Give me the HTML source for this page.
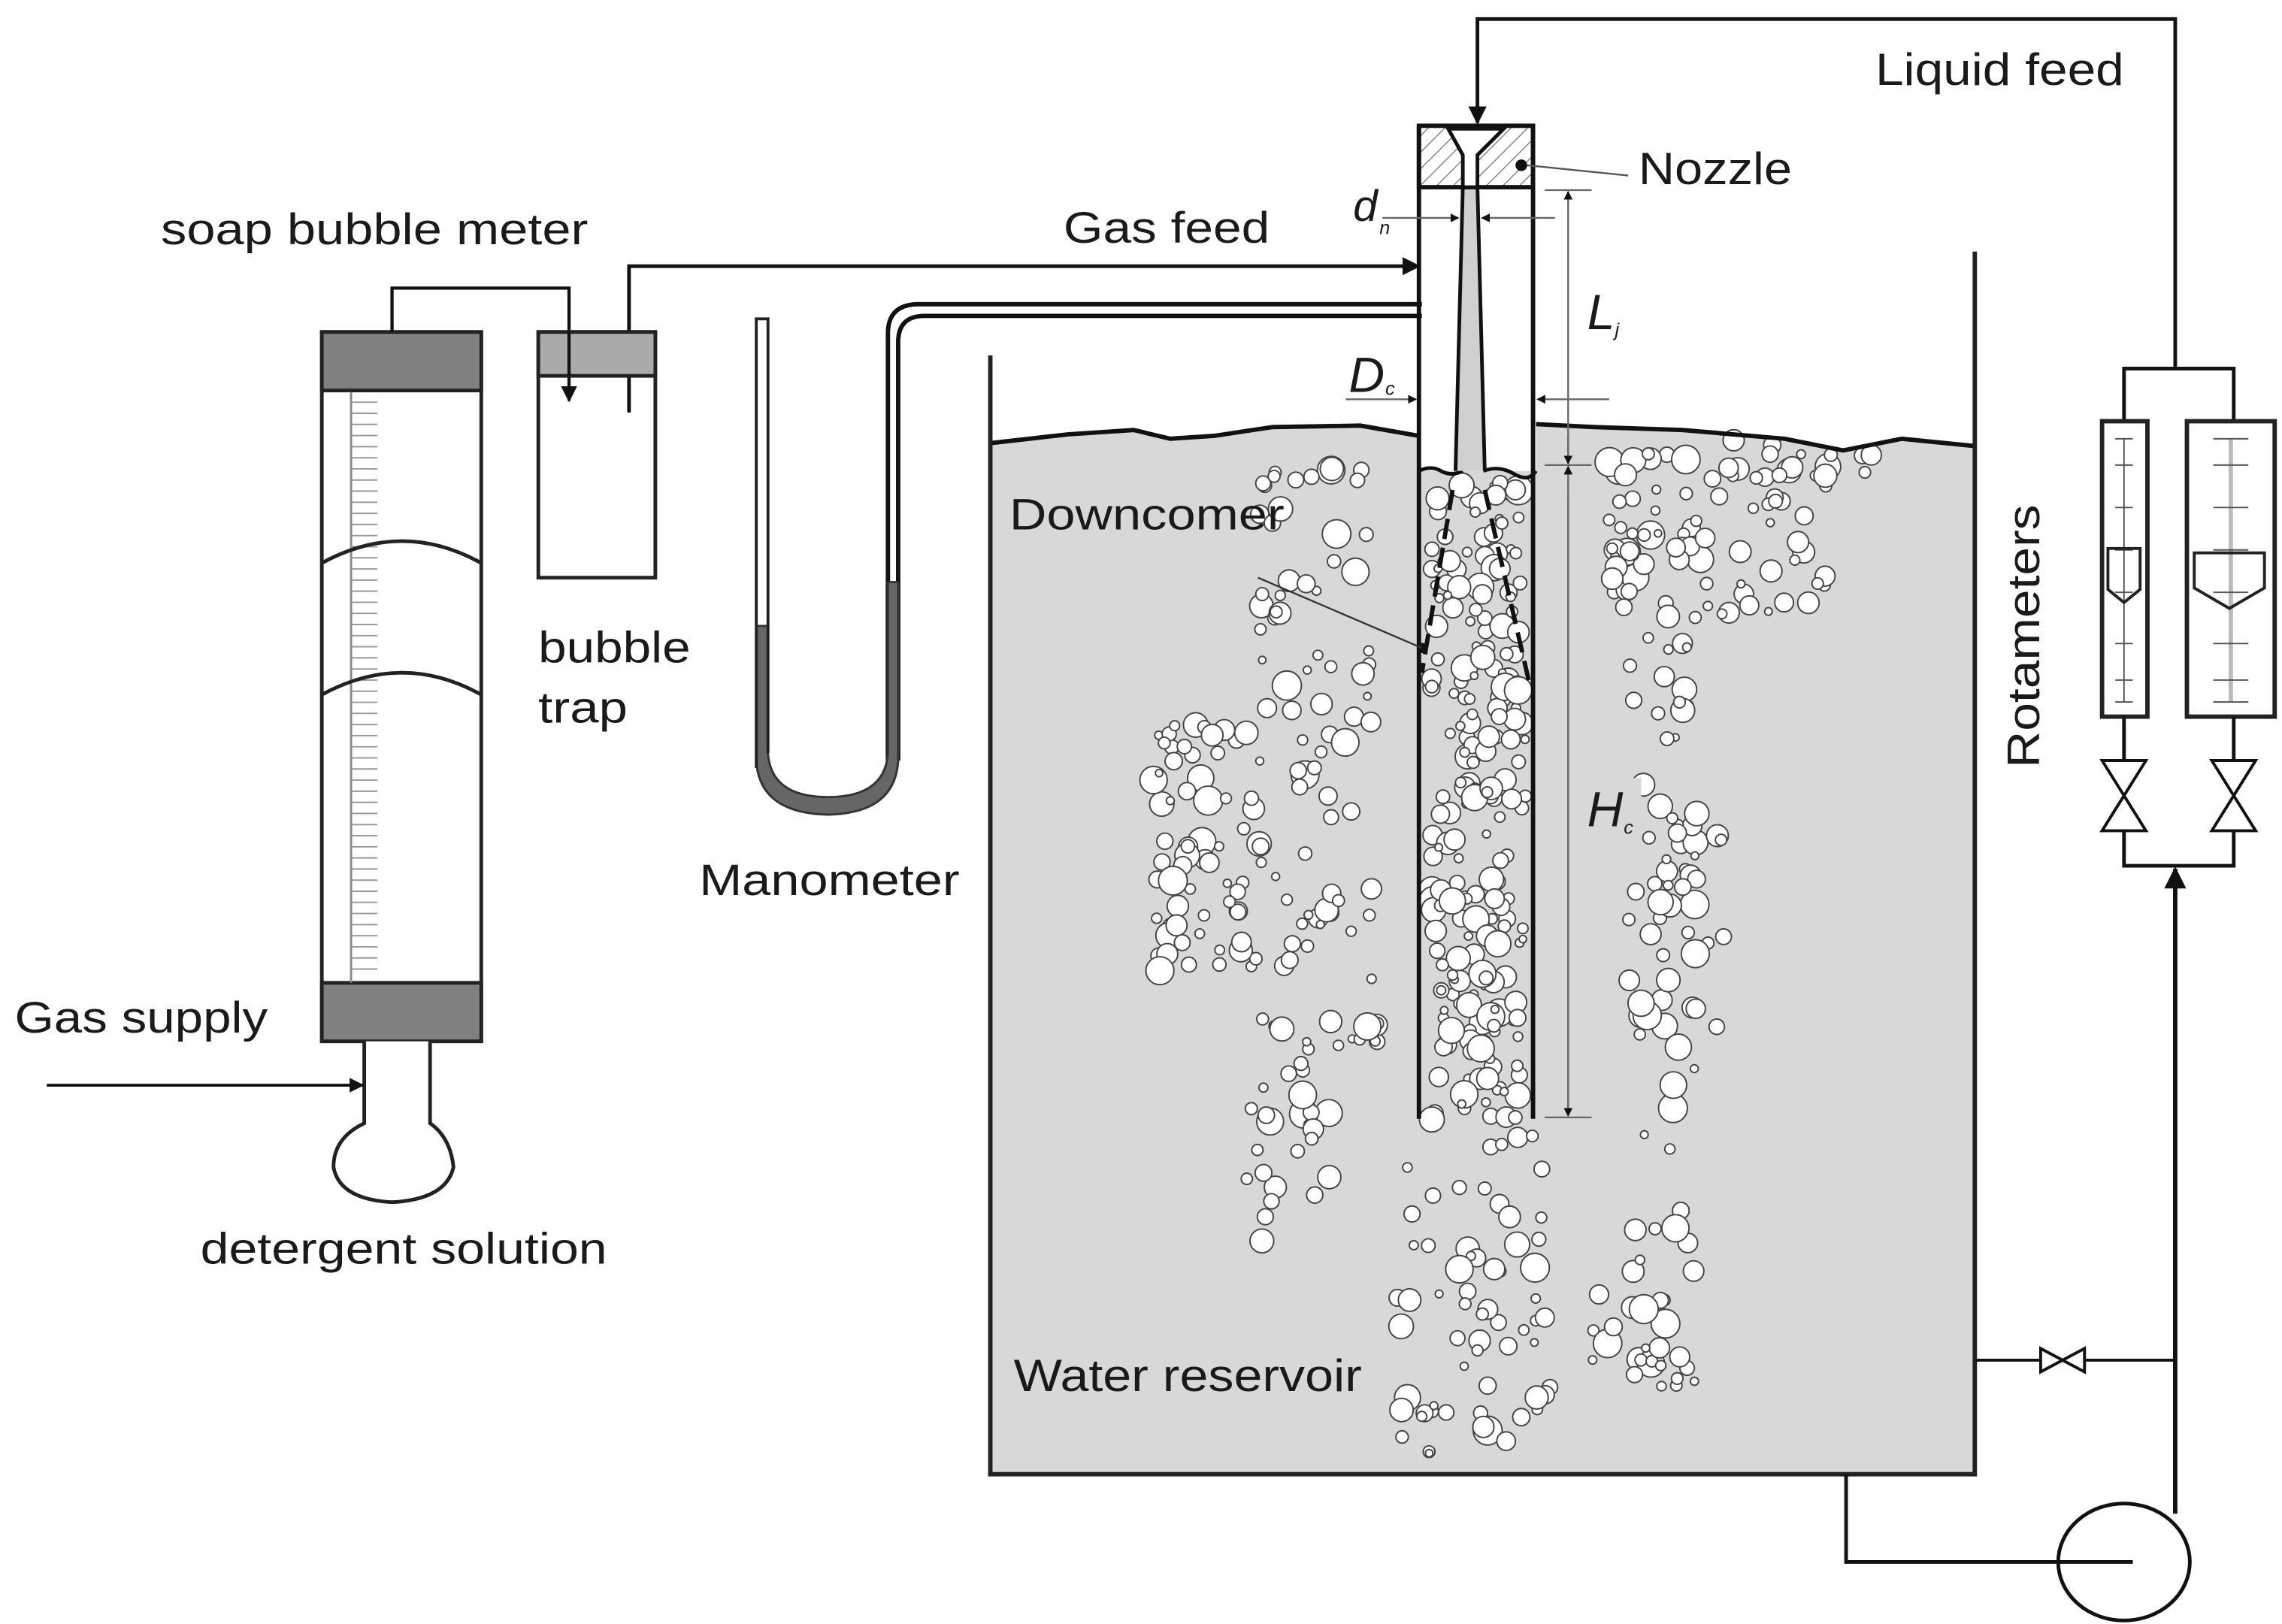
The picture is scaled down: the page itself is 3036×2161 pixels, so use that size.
<!DOCTYPE html>
<html><head><meta charset="utf-8"><style>
html,body{margin:0;padding:0;background:#fff}
svg{display:block}
text{font-family:"Liberation Sans",sans-serif;fill:#1a1a1a}
</style></head><body>
<svg id="s" width="3036" height="2161" viewBox="0 0 1560 1110.4" preserveAspectRatio="none" xmlns="http://www.w3.org/2000/svg">
<defs>
<marker id="ar" viewBox="0 0 10 10" refX="9" refY="5" markerWidth="5" markerHeight="5" orient="auto"><path d="M0,0 L10,5 L0,10 z" fill="#111"/></marker>
<pattern id="hatch" width="8" height="8" patternUnits="userSpaceOnUse" patternTransform="rotate(45)"><line x1="0" y1="0" x2="0" y2="8" stroke="#666" stroke-width="1.2"/></pattern>
</defs>
<path d="M677,303 L730,297 L775,294 L800,300 L830,298 L870,292 L930,291 L970,298 L970,1008 L677,1008 Z" fill="#d8d8d8"/>
<path d="M1050,290 L1090,292 L1150,294 L1220,300 L1260,308 L1300,300 L1350,305 L1350,1008 L1050,1008 Z" fill="#d8d8d8"/>
<rect x="970" y="322" width="80" height="686" fill="#d8d8d8"/>
<g id="bub"></g>
<path d="M677,303 L730,297 L775,294 L800,300 L830,298 L870,292 L930,291 L970,298" fill="none" stroke="#111" stroke-width="3"/>
<path d="M1050,290 L1090,292 L1150,294 L1220,300 L1260,308 L1300,300 L1350,305" fill="none" stroke="#111" stroke-width="3"/>
<path d="M677,243 L677,1008 L1350,1008 L1350,172" fill="none" stroke="#222" stroke-width="3"/>
<rect x="970" y="128" width="80" height="194" fill="#fff"/>
<path d="M970,322 Q978,318 985,322 T1000,322" fill="none" stroke="#111" stroke-width="2.5"/>
<path d="M1014,322 Q1025,318 1035,324 T1050,322" fill="none" stroke="#111" stroke-width="2.5"/>
<path d="M1000,128 L1010,128 L1015,322 L995,322 Z" fill="#d0d0d0"/>
<path d="M1000,128 L995,322 M1010,128 L1015,322" stroke="#111" stroke-width="2.5"/>
<line x1="970" y1="86" x2="970" y2="765" stroke="#111" stroke-width="3"/>
<line x1="1048" y1="86" x2="1048" y2="765" stroke="#111" stroke-width="3"/>
<rect x="970" y="86" width="78" height="42" fill="url(#hatch)" stroke="#111" stroke-width="3"/>
<path d="M990,88 L1000,106 L1000,128 L1010,128 L1010,106 L1028,88 Z" fill="#fff" stroke="#111" stroke-width="2.5"/>
<circle cx="1040" cy="113" r="4" fill="#111"/>
<line x1="1044" y1="113" x2="1113" y2="120" stroke="#555" stroke-width="1.2"/>
<path d="M993,335 L972,460 M1015,335 L1045,465" stroke="#111" stroke-width="3" stroke-dasharray="14,6" fill="none"/>
<circle cx="972" cy="443" r="3.5" fill="#111"/>
<line x1="972" y1="443" x2="860" y2="395" stroke="#333" stroke-width="1.2"/>
<line x1="945" y1="149" x2="997" y2="149" stroke="#666" stroke-width="1.2" marker-end="url(#ar)"/>
<line x1="1063" y1="149" x2="1013" y2="149" stroke="#666" stroke-width="1.2" marker-end="url(#ar)"/>
<line x1="1056" y1="130" x2="1088" y2="130" stroke="#666" stroke-width="1.2"/>
<line x1="1072" y1="315" x2="1072" y2="131" stroke="#666" stroke-width="1.2" marker-end="url(#ar)"/>
<line x1="920" y1="273" x2="968" y2="273" stroke="#666" stroke-width="1.2" marker-end="url(#ar)"/>
<line x1="1100" y1="273" x2="1051" y2="273" stroke="#666" stroke-width="1.2" marker-end="url(#ar)"/>
<line x1="1056" y1="318" x2="1088" y2="318" stroke="#666" stroke-width="1.2"/>
<line x1="1072" y1="298" x2="1072" y2="317" stroke="#666" stroke-width="1.2" marker-end="url(#ar)"/>
<line x1="1072" y1="762" x2="1072" y2="319" stroke="#666" stroke-width="1.2" marker-end="url(#ar)"/>
<line x1="1072" y1="340" x2="1072" y2="763" stroke="#666" stroke-width="1.2" marker-end="url(#ar)"/>
<line x1="1056" y1="764" x2="1088" y2="764" stroke="#666" stroke-width="1.2"/>
<path d="M1487,252 L1487,13 L1010,13 L1010,84" fill="none" stroke="#111" stroke-width="2.5" marker-end="url(#ar)"/>
<path d="M1452,287 L1452,252 L1527,252 L1527,287" fill="none" stroke="#111" stroke-width="2.5"/>
<rect x="1437" y="288" width="31" height="202" fill="#fff" stroke="#222" stroke-width="3"/>
<rect x="1495" y="288" width="60" height="202" fill="#fff" stroke="#222" stroke-width="3"/>
<line x1="1525" y1="300" x2="1525" y2="480" stroke="#bbb" stroke-width="3"/>
<g stroke="#555" stroke-width="1">
<line x1="1452" y1="300" x2="1452" y2="480"/>
<line x1="1446" y1="300" x2="1458" y2="300"/><line x1="1446" y1="318" x2="1458" y2="318"/><line x1="1446" y1="347" x2="1458" y2="347"/><line x1="1446" y1="376" x2="1458" y2="376"/><line x1="1446" y1="405" x2="1458" y2="405"/><line x1="1446" y1="440" x2="1458" y2="440"/><line x1="1446" y1="465" x2="1458" y2="465"/><line x1="1446" y1="480" x2="1458" y2="480"/>
<line x1="1513" y1="300" x2="1537" y2="300"/><line x1="1513" y1="318" x2="1537" y2="318"/><line x1="1513" y1="347" x2="1537" y2="347"/><line x1="1513" y1="376" x2="1537" y2="376"/><line x1="1513" y1="405" x2="1537" y2="405"/><line x1="1513" y1="440" x2="1537" y2="440"/><line x1="1513" y1="465" x2="1537" y2="465"/><line x1="1513" y1="480" x2="1537" y2="480"/>
</g>
<path d="M1441,375 L1463,375 L1463,403 L1452,412 L1441,403 Z" fill="none" stroke="#222" stroke-width="2"/>
<path d="M1500,378 L1548,378 L1548,402 L1524,416 L1500,402 Z" fill="none" stroke="#222" stroke-width="2"/>
<path d="M1452,490 L1452,520 M1527,490 L1527,520" stroke="#111" stroke-width="2.5"/>
<path d="M1437,520 L1467,520 L1437,568 L1467,568 Z M1512,520 L1542,520 L1512,568 L1542,568 Z" fill="none" stroke="#111" stroke-width="2"/>
<path d="M1452,568 L1452,592 L1527,592 L1527,568" fill="none" stroke="#111" stroke-width="2.5"/>
<line x1="1487" y1="1035" x2="1487" y2="594" stroke="#111" stroke-width="3" marker-end="url(#ar)"/>
<line x1="1350" y1="930" x2="1395" y2="930" stroke="#111" stroke-width="2"/>
<line x1="1425" y1="930" x2="1487" y2="930" stroke="#111" stroke-width="2"/>
<path d="M1395,922 L1425,938 L1425,922 L1395,938 Z" fill="none" stroke="#111" stroke-width="2"/>
<ellipse cx="1452" cy="1068" rx="45" ry="40" fill="#fff" stroke="#111" stroke-width="2.5"/>
<path d="M1262,1008 L1262,1068 L1458,1068" fill="none" stroke="#111" stroke-width="2.5"/>
<path d="M430,282 L430,182 L970,182" fill="none" stroke="#111" stroke-width="2.5" marker-end="url(#ar)"/>
<path d="M972,208 L628,208 Q607,208 607,228 L607,520" fill="none" stroke="#111" stroke-width="3"/>
<path d="M972,216 L632,216 Q614,216 614,234 L614,520" fill="none" stroke="#111" stroke-width="3"/>
<path d="M517,218 L525,218 L525,520 Q525,540 566,542 Q607,540 607,520 L607,400 L614,400 L614,525 Q614,560 566,562 Q517,560 517,525 Z" fill="#fff"/>
<path d="M517,428 L525,428 L525,515 Q527,545 566,545 Q605,545 607,515 L607,398 L614,398 L614,520 Q612,556 566,557 Q519,556 517,520 Z" fill="#666" stroke="#333" stroke-width="1.5"/>
<path d="M517,525 L517,218 L525,218 L525,515" fill="none" stroke="#222" stroke-width="2"/>
<rect x="220" y="227" width="109" height="485" fill="#fff" stroke="#222" stroke-width="2.5"/>
<rect x="220" y="227" width="109" height="40" fill="#808080" stroke="#222" stroke-width="2.5"/>
<rect x="220" y="672" width="109" height="40" fill="#808080" stroke="#222" stroke-width="2.5"/>
<line x1="240" y1="268" x2="240" y2="672" stroke="#888" stroke-width="1.5"/>
<g id="ticks"></g>
<path d="M220,385 Q275,355 329,385" fill="none" stroke="#222" stroke-width="2.5"/>
<path d="M220,475 Q275,445 329,475" fill="none" stroke="#222" stroke-width="2.5"/>
<path d="M268,227 L268,197 L389,197 L389,274" fill="none" stroke="#111" stroke-width="2.2" marker-end="url(#ar)"/>
<rect x="368" y="227" width="80" height="168" fill="none" stroke="#222" stroke-width="2.5"/>
<rect x="368" y="227" width="80" height="30" fill="#aaa" stroke="#222" stroke-width="2.5"/>
<line x1="389" y1="227" x2="389" y2="257" stroke="#111" stroke-width="2.2"/>
<path d="M249,712 L249,768 Q228,778 228,798 Q232,820 268,822 Q305,820 310,798 Q308,778 294,768 L294,712" fill="#fff" stroke="#222" stroke-width="2.5"/>
<line x1="32" y1="742" x2="248" y2="742" stroke="#111" stroke-width="2" marker-end="url(#ar)"/>
<text x="110" y="167" font-size="30" textLength="292" lengthAdjust="spacingAndGlyphs">soap bubble meter</text>
<text x="727" y="166" font-size="30" textLength="141" lengthAdjust="spacingAndGlyphs">Gas feed</text>
<text x="1282" y="58" font-size="31" textLength="170" lengthAdjust="spacingAndGlyphs">Liquid feed</text>
<text x="1120" y="126" font-size="31" textLength="105" lengthAdjust="spacingAndGlyphs">Nozzle</text>
<text x="925" y="151" font-size="30" font-style="italic">d</text><text x="943" y="160" font-size="13" font-style="italic">n</text>
<text x="1085" y="225" font-size="34" font-style="italic">L</text><text x="1104" y="230" font-size="13" font-style="italic">j</text>
<text x="922" y="268" font-size="34" font-style="italic">D</text><text x="947" y="270" font-size="13" font-style="italic">c</text>
<rect x="1082" y="532" width="40" height="42" fill="#d8d8d8"/>
<text x="1085" y="565" font-size="34" font-style="italic">H</text><text x="1110" y="570" font-size="13" font-style="italic">c</text>
<text x="690" y="362" font-size="30" textLength="188" lengthAdjust="spacingAndGlyphs">Downcomer</text>
<text x="368" y="453" font-size="30" textLength="104" lengthAdjust="spacingAndGlyphs">bubble</text>
<text x="368" y="494" font-size="30" textLength="61" lengthAdjust="spacingAndGlyphs">trap</text>
<text x="478" y="612" font-size="30" textLength="178" lengthAdjust="spacingAndGlyphs">Manometer</text>
<text x="10" y="706" font-size="30" textLength="173" lengthAdjust="spacingAndGlyphs">Gas supply</text>
<text x="137" y="864" font-size="30" textLength="278" lengthAdjust="spacingAndGlyphs">detergent solution</text>
<text x="693" y="951" font-size="31" textLength="238" lengthAdjust="spacingAndGlyphs">Water reservoir</text>
<text transform="translate(1394,525) rotate(-90)" font-size="31" textLength="180" lengthAdjust="spacingAndGlyphs">Rotameters</text>
</svg>
<script>
(function(){
var NS="http://www.w3.org/2000/svg";
var t=document.getElementById("ticks");
for(var y=275;y<668;y+=7.6){var l=document.createElementNS(NS,"line");l.setAttribute("x1",240);l.setAttribute("x2",258);l.setAttribute("y1",y);l.setAttribute("y2",y);l.setAttribute("stroke","#999");l.setAttribute("stroke-width","1");t.appendChild(l);}
var s=12345;function r(){s=(s*1103515245+12345)%2147483648;return s/2147483648;}
var g=document.getElementById("bub");
function add(x0,x1,y0,y1,n){for(var i=0;i<n;i++){var c=document.createElementNS(NS,"circle");var rr=r();var rad=rr<0.4?2.5+r()*2:(rr<0.8?4.5+r()*3:7+r()*3);c.setAttribute("cx",x0+r()*(x1-x0));c.setAttribute("cy",y0+r()*(y1-y0));c.setAttribute("r",rad);c.setAttribute("fill","#fff");c.setAttribute("stroke","#444");c.setAttribute("stroke-width","1");g.appendChild(c);}}
add(978,1043,330,765,220);
add(955,1060,765,1000,65);
add(860,940,320,500,40);
add(845,910,500,850,65);
add(785,840,495,550,25);
add(790,850,575,665,35);
add(900,945,480,750,18);
add(1100,1250,300,420,85);
add(1110,1160,420,950,65);
add(1120,1180,540,720,22);
add(1070,1150,860,950,16);
add(1180,1280,310,330,10);
})();
</script>
</body></html>
